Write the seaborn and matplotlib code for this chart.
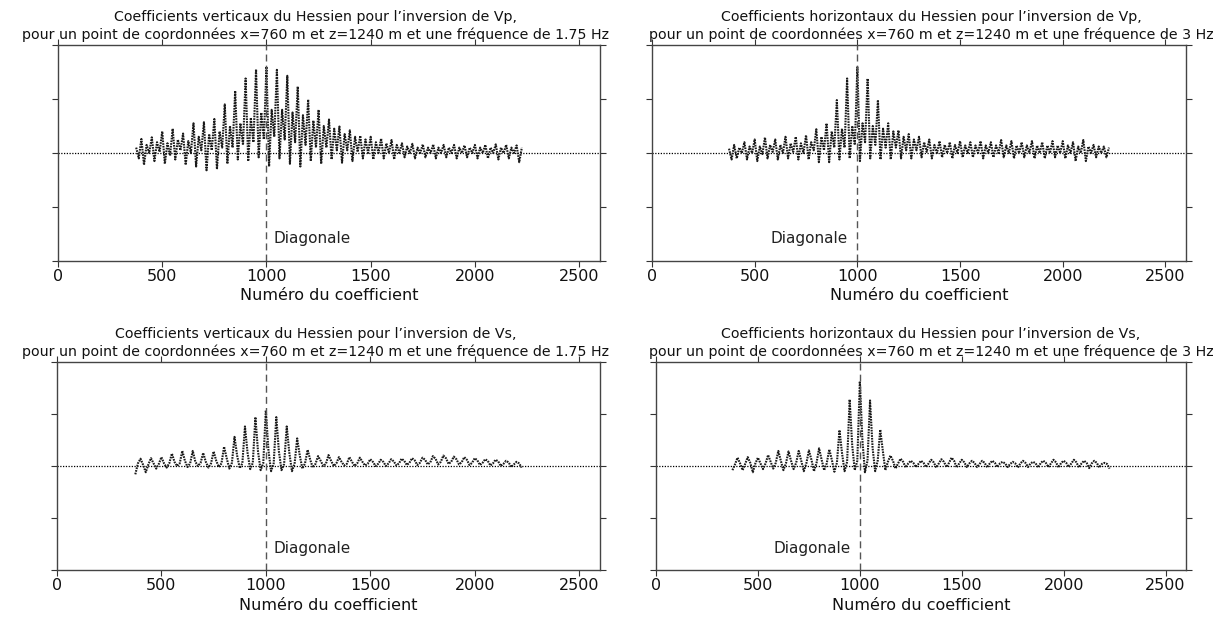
import numpy as np
import pandas as pd
import matplotlib
matplotlib.use("Agg")
import matplotlib.pyplot as plt
import seaborn as sns

# ---------------- data ----------------
# coefficient number at which each period (spike) starts
period_start = np.arange(350, 2201, 50)          # 38 periods
sample_offset = [0.0, 12.5, 25.0, 37.5]          # 4 samples read per period
coef_min, coef_max = 370, 2230                   # extent of the non-zero band
diag_coef = 1000

# Vp, vertical coefficients, 1.75 Hz
tl_spike = [0.00, 0.26, 0.29, 0.40, 0.45, 0.36, 0.55, 0.57, 0.63, 0.90,
            1.15, 1.38, 1.55, 1.60, 1.54, 1.43, 1.23, 0.99, 0.80, 0.62,
            0.49, 0.42, 0.32, 0.30, 0.27, 0.24, 0.18, 0.17, 0.16, 0.16,
            0.15, 0.15, 0.14, 0.15, 0.15, 0.16, 0.15, 0.14]
tl_after = [0.00, -0.22, -0.15, -0.20, -0.12, -0.22, -0.25, -0.32, -0.30, -0.20,
            -0.12, -0.15, -0.08, -0.25, -0.10, -0.20, -0.25, -0.15, -0.20, -0.12,
            -0.18, -0.15, -0.10, -0.12, -0.10, -0.12, -0.08, -0.10, -0.08, -0.10,
            -0.08, -0.10, -0.08, -0.10, -0.10, -0.12, -0.10, -0.17]
tl_mid = [0.10, 0.15, 0.20, 0.18, 0.25, 0.22, 0.30, 0.35, 0.40, 0.50,
          0.55, 0.65, 0.75, 0.80, 0.80, 0.75, 0.70, 0.60, 0.50, 0.45,
          0.35, 0.30, 0.25, 0.20, 0.18, 0.15, 0.12, 0.10, 0.10, 0.10,
          0.10, 0.10, 0.10, 0.10, 0.10, 0.10, 0.10, 0.10]
tl_before = [-0.10, 0.00, 0.02, -0.05, 0.05, 0.00, 0.05, 0.05, 0.10, 0.10,
             0.15, 0.20, 0.25, 0.30, 0.25, 0.20, 0.15, 0.10, 0.10, 0.05,
             0.05, 0.02, 0.00, 0.00, 0.00, 0.00, 0.00, 0.00, 0.00, 0.00,
             0.00, 0.00, 0.00, 0.00, 0.00, 0.00, 0.00, 0.00]

# Vp, horizontal coefficients, 3 Hz
tr_spike = [0.00, 0.15, 0.20, 0.25, 0.29, 0.25, 0.30, 0.30, 0.33, 0.44,
            0.55, 0.98, 1.38, 1.59, 1.38, 0.98, 0.55, 0.42, 0.35, 0.30,
            0.25, 0.22, 0.20, 0.22, 0.20, 0.22, 0.20, 0.24, 0.22, 0.20,
            0.22, 0.20, 0.22, 0.22, 0.20, 0.24, 0.15, 0.12]
tr_after = [0.00, -0.10, -0.12, -0.15, -0.10, -0.12, -0.10, -0.12, -0.12, -0.17,
            -0.17, -0.12, -0.10, -0.15, -0.10, -0.12, -0.12, -0.10, -0.10, -0.08,
            -0.10, -0.08, -0.10, -0.08, -0.08, -0.10, -0.08, -0.08, -0.10, -0.08,
            -0.10, -0.10, -0.08, -0.10, -0.15, -0.15, -0.08, -0.08]
tr_mid = [0.08, 0.10, 0.12, 0.12, 0.15, 0.15, 0.18, 0.18, 0.20, 0.30,
          0.40, 0.45, 0.50, 0.55, 0.50, 0.45, 0.40, 0.30, 0.25, 0.20,
          0.15, 0.15, 0.15, 0.14, 0.14, 0.14, 0.14, 0.14, 0.14, 0.14,
          0.14, 0.14, 0.14, 0.14, 0.12, 0.12, 0.12, 0.10]
tr_before = [-0.12, 0.00, 0.00, -0.02, 0.02, 0.00, 0.02, 0.00, 0.05, 0.05,
             0.10, 0.10, 0.15, 0.20, 0.15, 0.10, 0.10, 0.05, 0.05, 0.02,
             0.00, 0.00, 0.00, 0.00, 0.00, 0.00, 0.00, 0.00, 0.00, 0.00,
             0.00, 0.00, 0.00, 0.00, 0.00, 0.00, 0.00, 0.00]

# Vs, vertical coefficients, 1.75 Hz
bl_spike = [0.00, 0.14, 0.15, 0.17, 0.24, 0.29, 0.29, 0.25, 0.28, 0.37,
            0.56, 0.76, 0.94, 1.07, 0.94, 0.76, 0.53, 0.31, 0.19, 0.21,
            0.17, 0.17, 0.16, 0.13, 0.12, 0.13, 0.14, 0.15, 0.16, 0.19,
            0.20, 0.18, 0.17, 0.15, 0.13, 0.12, 0.10, 0.08]
bl_after = [0.00, 0.02, 0.05, 0.05, 0.08, 0.10, 0.08, 0.08, 0.10, 0.15,
            0.20, 0.25, 0.28, 0.30, 0.28, 0.25, 0.20, 0.12, 0.10, 0.10,
            0.08, 0.08, 0.08, 0.08, 0.08, 0.09, 0.10, 0.11, 0.12, 0.14,
            0.15, 0.13, 0.12, 0.11, 0.10, 0.09, 0.07, 0.05]
bl_mid = [-0.16, -0.12, -0.05, -0.03, 0.00, -0.02, 0.00, -0.03, -0.02, -0.05,
          -0.04, -0.06, -0.08, -0.10, -0.08, -0.10, -0.05, -0.03, 0.00, 0.00,
          0.01, 0.00, 0.01, 0.00, 0.00, 0.01, 0.02, 0.02, 0.03, 0.03,
          0.04, 0.03, 0.02, 0.02, 0.01, 0.00, -0.02, -0.03]
bl_before = [0.05, 0.03, 0.04, 0.05, 0.05, 0.05, 0.06, 0.05, 0.05, 0.06,
             0.05, 0.06, 0.05, 0.05, 0.04, 0.04, 0.05, 0.04, 0.04, 0.05,
             0.04, 0.05, 0.04, 0.04, 0.05, 0.05, 0.06, 0.06, 0.07, 0.08,
             0.08, 0.07, 0.06, 0.06, 0.05, 0.04, 0.03, 0.02]

# Vs, horizontal coefficients, 3 Hz
br_spike = [0.00, 0.16, 0.17, 0.16, 0.21, 0.29, 0.28, 0.29, 0.30, 0.34,
            0.32, 0.69, 1.28, 1.63, 1.26, 0.70, 0.20, 0.14, 0.10, 0.10,
            0.12, 0.13, 0.16, 0.12, 0.10, 0.10, 0.10, 0.08, 0.08, 0.10,
            0.08, 0.10, 0.12, 0.10, 0.12, 0.10, 0.10, 0.06]
br_after = [0.00, 0.05, 0.06, 0.05, 0.08, 0.10, 0.10, 0.10, 0.12, 0.12,
            0.12, 0.25, 0.40, 0.50, 0.35, 0.30, 0.10, 0.08, 0.06, 0.06,
            0.07, 0.08, 0.10, 0.07, 0.06, 0.06, 0.06, 0.05, 0.05, 0.06,
            0.05, 0.06, 0.07, 0.06, 0.07, 0.06, 0.06, 0.04]
br_mid = [-0.08, -0.08, -0.12, -0.06, -0.05, -0.08, -0.06, -0.10, -0.10, -0.08,
          -0.11, -0.10, -0.08, -0.12, -0.10, -0.08, -0.05, -0.03, -0.02, -0.02,
          -0.03, -0.02, -0.03, -0.02, -0.02, -0.03, -0.02, -0.02, -0.03, -0.02,
          -0.03, -0.02, -0.03, -0.02, -0.03, -0.04, -0.03, -0.05]
br_before = [0.03, 0.04, 0.05, 0.05, 0.06, 0.05, 0.06, 0.05, 0.06, 0.05,
             0.06, 0.08, 0.10, 0.10, 0.10, 0.08, 0.05, 0.05, 0.04, 0.05,
             0.05, 0.06, 0.05, 0.05, 0.04, 0.05, 0.05, 0.04, 0.05, 0.05,
             0.06, 0.05, 0.06, 0.05, 0.05, 0.05, 0.04, 0.03]

titles = [
    "Coefficients verticaux du Hessien pour l\u2019inversion de Vp,\n"
    "pour un point de coordonnées x=760 m et z=1240 m et une fréquence de 1.75 Hz",
    "Coefficients horizontaux du Hessien pour l\u2019inversion de Vp,\n"
    "pour un point de coordonnées x=760 m et z=1240 m et une fréquence de 3 Hz",
    "Coefficients verticaux du Hessien pour l\u2019inversion de Vs,\n"
    "pour un point de coordonnées x=760 m et z=1240 m et une fréquence de 1.75 Hz",
    "Coefficients horizontaux du Hessien pour l\u2019inversion de Vs,\n"
    "pour un point de coordonnées x=760 m et z=1240 m et une fréquence de 3 Hz",
]
xlabel = "Numéro du coefficient"
diag_label = "Diagonale"
xticks = [0, 500, 1000, 1500, 2000, 2500]


def build(spike, after, mid, before):
    vals = np.column_stack([spike, after, mid, before]).ravel()
    coef = (period_start[:, None] + np.array(sample_offset)[None, :]).ravel()
    keep = (coef >= coef_min) & (coef <= coef_max)
    return pd.DataFrame({"coef": coef[keep], "value": vals[keep]})


panels = [
    build(tl_spike, tl_after, tl_mid, tl_before),
    build(tr_spike, tr_after, tr_mid, tr_before),
    build(bl_spike, bl_after, bl_mid, bl_before),
    build(br_spike, br_after, br_mid, br_before),
]

# ---------------- drawing ----------------
sns.set_style("ticks")
plt.rcParams["font.family"] = ["DejaVu Sans"]

fig = plt.figure(figsize=(12.28, 6.2), dpi=100)
W, H = 1228, 620
boxes = [(58, 600, 45, 261), (652, 1186, 45, 261),
         (57, 600, 362, 570), (656, 1186, 362, 570)]
label_side = ["right", "left", "right", "left"]
title_cx = [316, 931, 316, 931]

for i, (df, (l, r, t, b)) in enumerate(zip(panels, boxes)):
    ax = fig.add_axes([l / W, 1 - b / H, (r - l) / W, (b - t) / H])
    ax.axhline(0, color="black", lw=0.9, ls=(0, (1, 1.2)), zorder=1)
    sns.lineplot(data=df, x="coef", y="value", ax=ax, color="#1a1a1a",
                 lw=1.5, linestyle=(0, (0.8, 0.5)), sort=False, zorder=2)
    ax.axvline(diag_coef, color="#555555", lw=1.0, ls=(0, (5, 3)), zorder=3)
    if label_side[i] == "right":
        ax.text(diag_coef + 35, -1.58, diag_label, ha="left", va="center",
                fontsize=11, color="#222222")
    else:
        ax.text(diag_coef - 45, -1.58, diag_label, ha="right", va="center",
                fontsize=11, color="#222222")
    ax.set_xlim(0, 2600)
    ax.set_ylim(-2, 2)
    ax.set_xticks(xticks)
    ax.set_yticks([-2, -1, 0, 1, 2])
    ax.tick_params(axis="both", direction="out", length=4, width=0.8,
                   top=True, right=True, labelleft=False, labelsize=11.5,
                   colors="#333333", labelcolor="#111111", pad=2)
    for s in ax.spines.values():
        s.set_color("#444444")
        s.set_linewidth(1.0)
    ax.set_xlabel(xlabel, fontsize=11.5, labelpad=3, color="#111111")
    ax.set_ylabel("")
    fig.text(title_cx[i] / W, 1 - (t - 3) / H, titles[i], ha="center",
             va="bottom", fontsize=10.2, linespacing=1.3, color="#111111")

fig.savefig("out.png", dpi=100)
